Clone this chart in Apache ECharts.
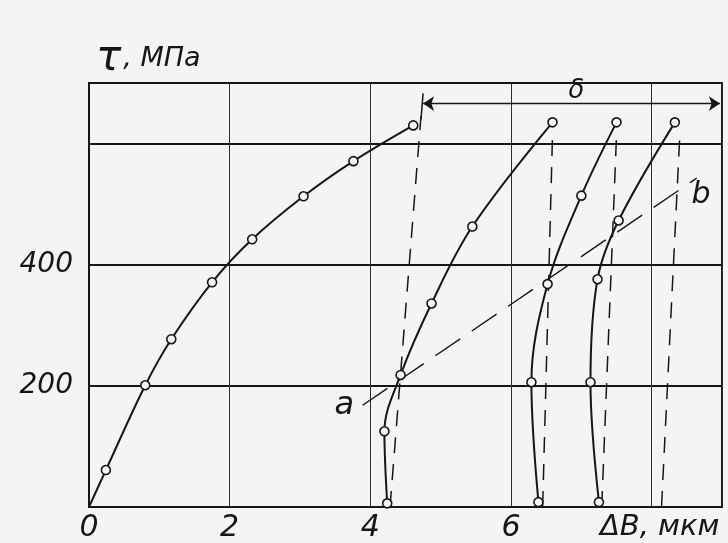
<!DOCTYPE html>
<html><head><meta charset="utf-8">
<script src="https://cdn.jsdelivr.net/npm/echarts@6/dist/echarts.min.js"></script>
<style>html,body{margin:0;padding:0;background:#f4f4f2}#c{width:728px;height:543px}</style>
</head><body><div id="c"></div>
<script>
// ---- data ----
const xTickValues = [0, 2, 4, 6, 8];
const xTickLabels = ['0', '2', '4', '6', 'ΔB, мкм'];
const yTickValues = [200, 400];
const yTickLabels = ['200', '400'];
const curve1 = [[0, 0], [0.24, 61], [0.80, 201], [1.17, 277], [1.75, 371], [2.32, 442], [3.05, 513], [3.76, 571], [4.61, 630]];
const curve2 = [[4.24, 6], [4.20, 125], [4.43, 218], [4.87, 336], [5.45, 463], [6.59, 635]];
const curve3 = [[6.39, 8], [6.29, 206], [6.52, 368], [7.00, 514], [7.50, 635]];
const curve4 = [[7.25, 8], [7.13, 206], [7.23, 376], [7.53, 473], [8.33, 635]];
const dashed1 = [[4.28, 0], [4.72, 645]];
const tick1 = [[4.72, 640], [4.75, 683]];
const dashed2 = [[6.45, 0], [6.59, 613]];
const dashed3 = [[7.29, 0], [7.50, 613]];
const dashed4 = [[8.14, 0], [8.40, 613]];
const lineAB = [[3.89, 168], [8.64, 543]];
const deltaArrow = [[4.75, 666], [8.97, 666]];
const labelNames = ['a', 'b', 'δ'];
const labelPoints = [[3.63, 168], [8.70, 515], [6.93, 686]];

// ---- styling ----
const BG = '#f4f4f2';
const INK = '#161616';
const FONT = "'DejaVu Sans', sans-serif";

function curveSeries(d, noFirstMarker) {
  return {
    type: 'line', silent: true, animation: false, z: 4,
    data: d.map((p, i) => (noFirstMarker && i === 0) ? { value: p, symbol: 'none' } : p),
    smooth: 0.35, symbol: 'circle', symbolSize: 9, showSymbol: true,
    itemStyle: { color: BG, borderColor: INK, borderWidth: 1.6 },
    lineStyle: { color: INK, width: 2 }
  };
}
function dashSeries(d, dash, w) {
  return {
    type: 'line', silent: true, animation: false, z: 3, data: d, symbol: 'none',
    lineStyle: { color: INK, width: w || 1.5, type: dash }
  };
}
const labelSizes = [32, 30, 26];

const chart = echarts.init(document.getElementById('c'), null, { renderer: 'canvas' });
chart.setOption({
  backgroundColor: BG,
  animation: false,
  grid: { left: 89, top: 83, width: 633, height: 426, show: true, borderColor: INK, borderWidth: 2, backgroundColor: 'transparent' },
  xAxis: {
    type: 'value', min: 0, max: 9, interval: 2,
    axisLine: { show: true, onZero: false, lineStyle: { color: INK, width: 2 } },
    axisTick: { show: false },
    splitLine: { show: true, lineStyle: { color: '#2e2e2e', width: 1 } },
    axisLabel: {
      margin: 6, color: INK, fontSize: 30, fontStyle: 'italic', fontFamily: FONT,
      formatter: v => { const i = xTickValues.indexOf(v); if (i < 0) return ''; return i === xTickValues.length - 1 ? '{u|' + xTickLabels[i] + '}' : xTickLabels[i]; },
      rich: { u: { fontSize: 29, fontStyle: 'italic', fontFamily: FONT, color: INK, padding: [0, 0, 0, 16] } }
    }
  },
  yAxis: {
    type: 'value', min: 0, max: 700, interval: 200,
    axisLine: { show: true, onZero: false, lineStyle: { color: INK, width: 2 } },
    axisTick: { show: false },
    splitLine: { show: true, lineStyle: { color: INK, width: 2 } },
    axisLabel: {
      margin: 16, color: INK, fontSize: 28, fontStyle: 'italic', fontFamily: FONT,
      formatter: v => { const i = yTickValues.indexOf(v); return i < 0 ? '' : yTickLabels[i]; }
    }
  },
  graphic: [{
    type: 'text', left: 96, top: 38, silent: true,
    style: {
      text: '{t|τ}{r|, МПа}', fill: INK,
      rich: {
        t: { fontSize: 42, fontStyle: 'italic', fontFamily: FONT, fill: INK },
        r: { fontSize: 27, fontStyle: 'italic', fontFamily: FONT, fill: INK, padding: [0, 0, 0, 2] }
      }
    }
  }],
  series: [
    curveSeries(curve1, true),
    curveSeries(curve2, false),
    curveSeries(curve3, false),
    curveSeries(curve4, false),
    dashSeries(dashed1, [16, 11]),
    dashSeries(tick1, 'solid'),
    dashSeries(dashed2, [16, 11]),
    dashSeries(dashed3, [16, 11]),
    dashSeries(dashed4, [16, 11]),
    dashSeries(lineAB, [30, 14], 1.4),
    {
      type: 'lines', coordinateSystem: 'cartesian2d', silent: true, animation: false, z: 3,
      data: [{ coords: deltaArrow }],
      symbol: ['arrow', 'arrow'], symbolSize: 11,
      lineStyle: { color: INK, width: 1.4, opacity: 1 }
    },
    {
      type: 'scatter', silent: true, animation: false, z: 5, symbolSize: 1,
      itemStyle: { color: 'rgba(0,0,0,0)', opacity: 1 },
      data: labelNames.map((n, i) => ({
        name: n, value: labelPoints[i],
        label: { fontSize: labelSizes[i] }
      })),
      label: { show: true, position: 'inside', formatter: '{b}', color: INK, opacity: 1, fontStyle: 'italic', fontFamily: FONT }
    }
  ]
});
</script>
</body></html>
